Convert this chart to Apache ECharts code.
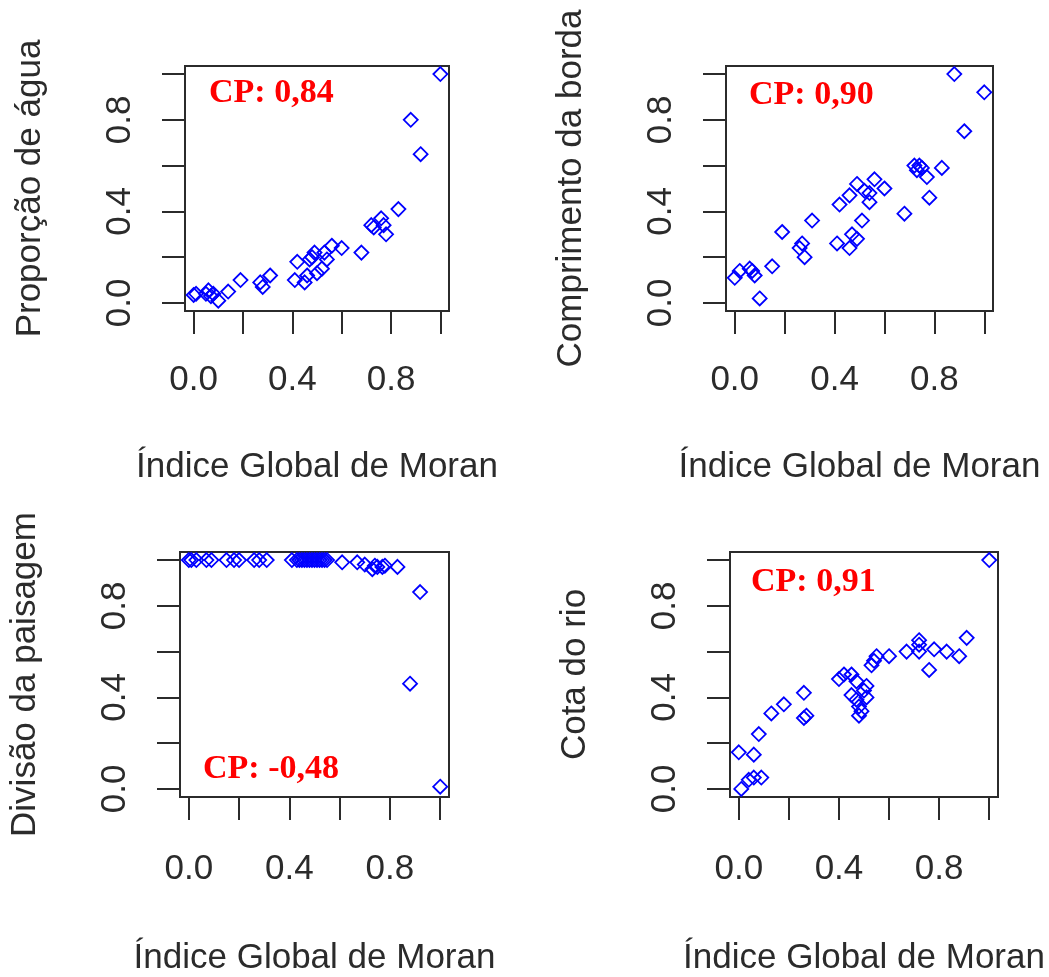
<!DOCTYPE html>
<html>
<head>
<meta charset="utf-8">
<script src="https://cdn.jsdelivr.net/npm/echarts@6/dist/echarts.min.js"></script>
<style>
  html, body { margin: 0; padding: 0; background: #ffffff; }
  #chart { width: 1049px; height: 977px; }
</style>
</head>
<body>
<div id="chart"></div>
<script>
// ---- Data ----
const xTitle = 'Índice Global de Moran';
const yTitles = ['Proporção de água', 'Comprimento da borda', 'Divisão da paisagem', 'Cota do rio'];
const cpLabels = ['CP: 0,84', 'CP: 0,90', 'CP: -0,48', 'CP: 0,91'];
const tickValues = [0, 0.2, 0.4, 0.6, 0.8, 1.0];
const labelValues = [0, 0.4, 0.8];

// Panel 1: Proporção de água
const p1X = [1.00, 0.88, 0.92, 0.83, 0.72, 0.73, 0.76, 0.77, 0.78, 0.68, 0.60, 0.56, 0.53, 0.42, 0.41, 0.46, 0.45, 0.47, 0.49, 0.50, 0.52, 0.54, 0.48, 0.31, 0.27, 0.28, 0.19, 0.14, 0.10, 0.08, 0.06, 0.05, 0.01, 0.00, 0.07];
const p1Y = [1.00, 0.80, 0.65, 0.41, 0.34, 0.33, 0.37, 0.34, 0.30, 0.22, 0.24, 0.25, 0.22, 0.18, 0.10, 0.12, 0.09, 0.19, 0.22, 0.13, 0.15, 0.19, 0.20, 0.12, 0.09, 0.07, 0.10, 0.05, 0.01, 0.04, 0.055, 0.04, 0.04, 0.035, 0.03];

// Panel 2: Comprimento da borda
const p2X = [0.88, 1.00, 0.92, 0.83, 0.72, 0.73, 0.74, 0.75, 0.77, 0.78, 0.68, 0.60, 0.56, 0.49, 0.52, 0.54, 0.54, 0.46, 0.42, 0.51, 0.47, 0.49, 0.46, 0.41, 0.31, 0.27, 0.26, 0.28, 0.19, 0.15, 0.07, 0.08, 0.06, 0.02, 0.00, 0.10];
const p2Y = [1.00, 0.92, 0.75, 0.59, 0.60, 0.58, 0.60, 0.59, 0.55, 0.46, 0.39, 0.50, 0.54, 0.52, 0.49, 0.48, 0.44, 0.47, 0.43, 0.36, 0.30, 0.28, 0.24, 0.26, 0.36, 0.26, 0.24, 0.20, 0.31, 0.16, 0.14, 0.12, 0.15, 0.14, 0.11, 0.02];

// Panel 3: Divisão da paisagem
const p3X = [0.00, 0.01, 0.03, 0.07, 0.09, 0.15, 0.18, 0.20, 0.26, 0.28, 0.31, 0.41, 0.43, 0.44, 0.45, 0.46, 0.47, 0.48, 0.49, 0.50, 0.51, 0.52, 0.53, 0.54, 0.55, 0.61, 0.67, 0.70, 0.73, 0.74, 0.75, 0.77, 0.78, 0.83, 0.92, 0.88, 1.00];
const p3Y = [1.00, 1.00, 1.00, 1.00, 1.00, 1.00, 1.00, 1.00, 1.00, 1.00, 1.00, 1.00, 1.00, 1.00, 1.00, 1.00, 1.00, 1.00, 1.00, 1.00, 1.00, 1.00, 1.00, 1.00, 1.00, 0.99, 0.99, 0.98, 0.96, 0.975, 0.97, 0.97, 0.975, 0.97, 0.86, 0.46, 0.01];

// Panel 4: Cota do rio
const p4X = [1.00, 0.91, 0.88, 0.83, 0.78, 0.76, 0.72, 0.72, 0.72, 0.67, 0.60, 0.55, 0.53, 0.54, 0.40, 0.42, 0.45, 0.47, 0.51, 0.51, 0.45, 0.48, 0.49, 0.48, 0.50, 0.47, 0.26, 0.27, 0.26, 0.18, 0.13, 0.08, 0.00, 0.06, 0.09, 0.06, 0.04, 0.01];
const p4Y = [1.00, 0.66, 0.58, 0.60, 0.61, 0.52, 0.60, 0.65, 0.63, 0.60, 0.58, 0.58, 0.54, 0.56, 0.48, 0.50, 0.50, 0.47, 0.45, 0.40, 0.41, 0.36, 0.34, 0.32, 0.43, 0.39, 0.42, 0.32, 0.31, 0.37, 0.33, 0.24, 0.16, 0.15, 0.05, 0.05, 0.04, 0.00];

const panelsX = [p1X, p2X, p3X, p4X];
const panelsY = [p1Y, p2Y, p3Y, p4Y];

// ---- Layout ----
const grids = [
  { left: 185, top: 66, width: 264, height: 245 },
  { left: 726, top: 66, width: 267, height: 245 },
  { left: 180, top: 552, width: 269, height: 248 },
  { left: 730, top: 552, width: 268, height: 248 }
];
const xNameGaps = [139, 139, 144, 144];
const xLabelMargins = [52, 52, 55, 55];
const cpPos = [
  { x: 209, y: 93 },
  { x: 749, y: 95 },
  { x: 203, y: 769 },
  { x: 751, y: 582 }
];

const textFont = 'Liberation Sans, Arial, sans-serif';
const axisColor = '#2b2b2b';
const AMIN = -0.035, AMAX = 1.035;

function xAxisFor(i) {
  return {
    type: 'value', gridIndex: i, min: AMIN, max: AMAX,
    name: xTitle, nameLocation: 'middle', nameGap: xNameGaps[i],
    nameTextStyle: { fontFamily: textFont, fontSize: 35, color: axisColor },
    axisLine: { show: false, onZero: false },
    axisTick: { show: true, length: 23, customValues: tickValues, lineStyle: { color: axisColor, width: 2 } },
    axisLabel: { show: true, margin: xLabelMargins[i], customValues: labelValues, fontFamily: textFont, fontSize: 35, color: axisColor,
      formatter: v => v.toFixed(1) },
    splitLine: { show: false }
  };
}
function yAxisFor(i) {
  return {
    type: 'value', gridIndex: i, min: AMIN, max: AMAX,
    name: yTitles[i], nameLocation: 'middle', nameGap: 137,
    nameTextStyle: { fontFamily: textFont, fontSize: 35, color: axisColor },
    axisLine: { show: false, onZero: false },
    axisTick: { show: true, length: 23, customValues: tickValues, lineStyle: { color: axisColor, width: 2 } },
    axisLabel: { show: true, margin: 47, rotate: 90, customValues: labelValues, fontFamily: textFont, fontSize: 35, color: axisColor,
      formatter: v => v.toFixed(1) },
    splitLine: { show: false }
  };
}

const option = {
  backgroundColor: '#ffffff',
  animation: false,
  grid: grids.map(g => Object.assign({ show: true, borderColor: axisColor, borderWidth: 2, backgroundColor: 'transparent', containLabel: false }, g)),
  xAxis: grids.map((g, i) => xAxisFor(i)),
  yAxis: grids.map((g, i) => yAxisFor(i)),
  series: panelsX.map((xs, i) => ({
    type: 'scatter',
    xAxisIndex: i, yAxisIndex: i,
    symbol: 'diamond', symbolSize: 14,
    itemStyle: { color: 'rgba(0,0,0,0)', borderColor: '#0000ff', borderWidth: 1.8, opacity: 1 },
    emphasis: { disabled: true },
    data: xs.map((x, k) => [x, panelsY[i][k]])
  })),
  graphic: cpLabels.map((t, i) => ({
    type: 'text', x: cpPos[i].x, y: cpPos[i].y, silent: true,
    style: { text: t, fill: '#ff0000', font: 'bold 34px "Liberation Serif", "Times New Roman", serif',
      textAlign: 'left', textVerticalAlign: 'middle' }
  }))
};

const chart = echarts.init(document.getElementById('chart'), null, { renderer: 'canvas' });
chart.setOption(option);
</script>
</body>
</html>
